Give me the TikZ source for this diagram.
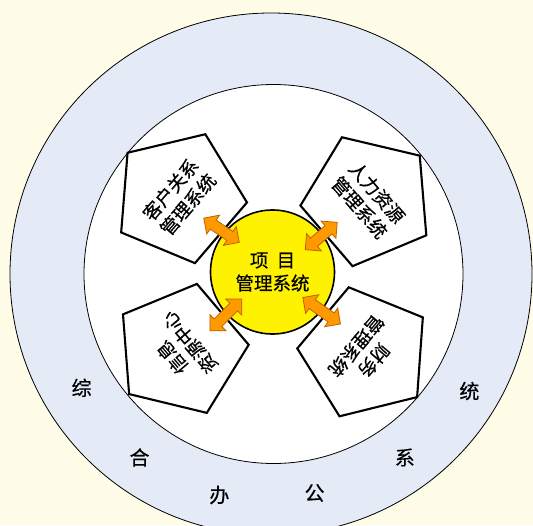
\documentclass[tikz,border=0pt]{standalone}
\usepackage{fontspec}
\newfontfamily\cjk{Noto Sans CJK SC}[FakeBold=0.4]
\usetikzlibrary{shapes.geometric,shapes.arrows}
\definecolor{bgcream}{RGB}{255,252,232}
\definecolor{ringblue}{RGB}{228,235,247}
\definecolor{arrowfill}{RGB}{255,153,0}
\definecolor{arrowedge}{RGB}{190,100,0}
\begin{document}
\begin{tikzpicture}[x=1pt,y=1pt,
  pent/.style={regular polygon, regular polygon sides=5, minimum size=136pt, inner sep=0pt,
    draw=black, line width=2.1pt, fill=white, font=\cjk\fontsize{18.5}{23}\selectfont, align=center},
  ringtxt/.style={font=\cjk\fontsize{20}{24}\selectfont, inner sep=0pt},
  dblarrow/.style={double arrow, double arrow head extend=6pt, inner xsep=0pt, inner ysep=5pt,
    fill=arrowfill, draw=arrowedge, line width=0.8pt, sloped, midway}
]
\fill[bgcream] (0,0) rectangle (533,-525);
\clip (0,0) rectangle (533,-525);
\node[circle, draw, fill=ringblue, minimum size=522pt, inner sep=0pt, line width=0.8pt] (outer) at (271,-274) {};
\node[circle, draw, fill=white, minimum size=379pt, inner sep=0pt, line width=0.8pt] (inner) at (273.5,-274) {};

\node[pent, rotate=49.4] (crm) at (179.2,-197) {客户关系\\管理系统};
\node[pent, rotate=-49.3] (hr) at (368.2,-200) {人力资源\\管理系统};
\node[pent, rotate=130.4] (info) at (180.9,-350) {信息\\资源中心};
\node[pent, rotate=229.9] (fin) at (365.1,-353.3) {财务\\管理系统};

\node[circle, draw, fill=yellow, minimum size=124pt, inner sep=0pt, line width=1.6pt,
  font=\cjk\fontsize{18.5}{23}\selectfont, align=center] (pm) at (272.5,-272) {项\hspace{0.45em}目\\管理系统};

\coordinate (a1s) at (203.5,-218);
\coordinate (a1e) at (239.5,-242.5);
\coordinate (a2s) at (337,-222.5);
\coordinate (a2e) at (305.5,-249.5);
\coordinate (a3s) at (242,-298.8);
\coordinate (a3e) at (209.7,-331);
\coordinate (a4s) at (302.8,-297.5);
\coordinate (a4e) at (340.5,-324);
\path (a1s) -- (a1e) node[dblarrow, minimum height=43pt] (ar1) {};
\path (a2s) -- (a2e) node[dblarrow, minimum height=42pt] (ar2) {};
\path (a3s) -- (a3e) node[dblarrow, minimum height=45pt] (ar3) {};
\path (a4s) -- (a4e) node[dblarrow, minimum height=46pt] (ar4) {};

\node[ringtxt] (r1) at (81.6,-387.8) {综};
\node[ringtxt] (r2) at (139.5,-457.5) {合};
\node[ringtxt] (r3) at (219.4,-495) {办};
\node[ringtxt] (r4) at (314.6,-493) {公};
\node[ringtxt] (r5) at (404.8,-457.5) {系};
\node[ringtxt] (r6) at (469.4,-391) {统};
\end{tikzpicture}
\end{document}
